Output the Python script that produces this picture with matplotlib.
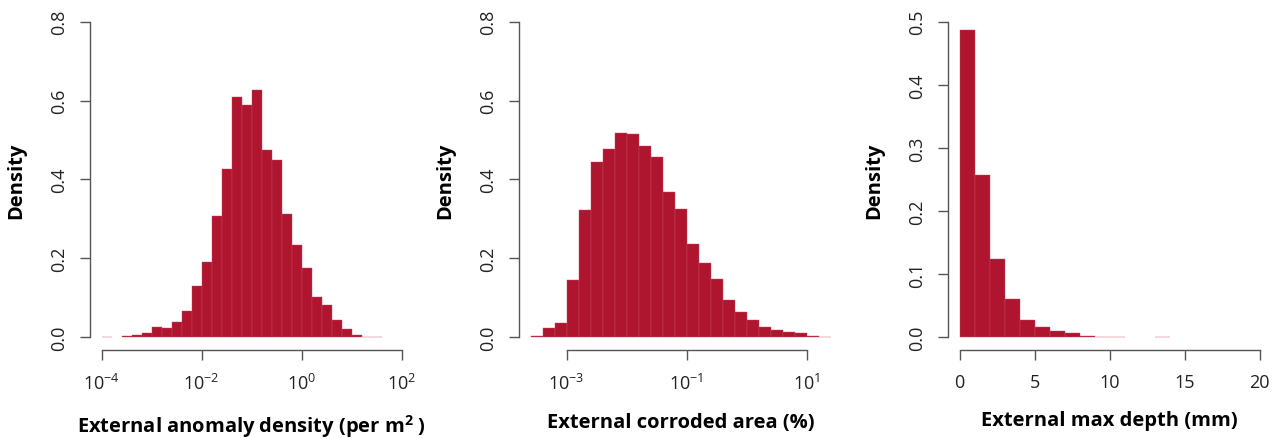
import numpy as np
import matplotlib
matplotlib.use("Agg")
from matplotlib import pyplot as plt

# histogram densities read off the reference
# panel 1: log10 bins of width 0.2 from -4 to 1.6
anomaly_lo, anomaly_hi = -4.0, 1.6
anomaly_dens = [0.001, 0.0, 0.0025, 0.006, 0.010, 0.026, 0.023, 0.040, 0.067,
                0.129, 0.191, 0.308, 0.427, 0.610, 0.590, 0.627, 0.475, 0.449,
                0.313, 0.234, 0.176, 0.103, 0.083, 0.044, 0.022, 0.006, 0.002,
                0.001]

# panel 2: log10 bins of width 0.2 from -3.6 to 1.4
area_lo, area_hi = -3.6, 1.4
area_dens = [0.004, 0.024, 0.036, 0.145, 0.322, 0.444, 0.477, 0.519, 0.516,
             0.485, 0.456, 0.369, 0.326, 0.236, 0.188, 0.147, 0.094, 0.063,
             0.045, 0.027, 0.019, 0.013, 0.010, 0.0025, 0.0017]

# panel 3: linear bins of width 1 mm from 0 to 14
depth_lo, depth_hi = 0, 14
depth_dens = [0.487, 0.257, 0.124, 0.060, 0.028, 0.016, 0.0095, 0.0074,
              0.002, 0.001, 0.0005, 0.0, 0.0, 0.0005]

xlabels = ["External anomaly density (per m$^{\\mathbf{2}}$ )",
           "External corroded area (%)",
           "External max depth (mm)"]

FILL = "#b01530"
EDGE = "#c64a5e"
AX = "#555555"

plt.rcParams["font.family"] = ["Open Sans", "DejaVu Sans"]
plt.rcParams["mathtext.fontset"] = "custom"
plt.rcParams["mathtext.rm"] = "Open Sans"
plt.rcParams["mathtext.bf"] = "Open Sans:bold"


def style_axis(ax, ybounds, xbounds, yticks, xticks):
    for s in ("top", "right"):
        ax.spines[s].set_visible(False)
    for s in ("left", "bottom"):
        ax.spines[s].set_color(AX)
        ax.spines[s].set_linewidth(1.0)
    ax.spines["left"].set_bounds(*ybounds)
    ax.spines["bottom"].set_bounds(*xbounds)
    ax.set_yticks(yticks)
    ax.set_yticklabels([f"{t:.1f}" for t in yticks], rotation=90, va="center")
    ax.set_xticks(xticks)
    ax.minorticks_off()
    ax.tick_params(axis="both", length=7.5, width=1.0, color=AX,
                   labelsize=13, labelcolor="#222222")
    ax.tick_params(axis="x", pad=9)
    ax.tick_params(axis="y", pad=8)
    ax.set_ylabel("Density", fontsize=14.5, fontweight="bold", labelpad=17)


def draw_hist(ax, edges, dens):
    nz = [i for i, d in enumerate(dens) if d > 0]
    left = [edges[i] for i in nz]
    w = [edges[i + 1] - edges[i] for i in nz]
    ax.bar(left, [dens[i] for i in nz], width=w, align="edge",
           color=FILL, edgecolor=EDGE, linewidth=0.3)


fig = plt.figure(figsize=(12.8, 4.39), dpi=100)
bottom, height = 0.2005, 0.7767
width = 0.2531
lefts = [89.7 / 1280, 518.7 / 1280, 947.7 / 1280]

# panel 1
ax1 = fig.add_axes([lefts[0], bottom, width, height])
draw_hist(ax1, 10 ** np.linspace(anomaly_lo, anomaly_hi, len(anomaly_dens) + 1),
          anomaly_dens)
ax1.set_xscale("log")
ax1.set_xlim(10 ** -4.24, 10 ** 2.24)
ax1.set_ylim(-0.032, 0.832)
style_axis(ax1, (0, 0.8), (1e-4, 1e2), [0, 0.2, 0.4, 0.6, 0.8],
           [1e-4, 1e-2, 1e0, 1e2])
ax1.set_xticklabels(["$10^{-4}$", "$10^{-2}$", "$10^{0}$", "$10^{2}$"])

# panel 2
ax2 = fig.add_axes([lefts[1], bottom, width, height])
draw_hist(ax2, 10 ** np.linspace(area_lo, area_hi, len(area_dens) + 1),
          area_dens)
ax2.set_xscale("log")
ax2.set_xlim(10 ** -3.8, 10 ** 1.6)
ax2.set_ylim(-0.032, 0.832)
style_axis(ax2, (0, 0.8), (1e-3, 1e1), [0, 0.2, 0.4, 0.6, 0.8],
           [1e-3, 1e-1, 1e1])
ax2.set_xticklabels(["$10^{-3}$", "$10^{-1}$", "$10^{1}$"])

# panel 3
ax3 = fig.add_axes([lefts[2], bottom, width, height])
draw_hist(ax3, np.linspace(depth_lo, depth_hi, len(depth_dens) + 1),
          depth_dens)
ax3.set_xlim(-0.8, 20.8)
ax3.set_ylim(-0.02, 0.52)
style_axis(ax3, (0, 0.5), (0, 20), [0, 0.1, 0.2, 0.3, 0.4, 0.5],
           [0, 5, 10, 15, 20])

for ax, lab in zip((ax1, ax2, ax3), xlabels):
    ax.set_xlabel(lab, fontsize=14.5, fontweight="bold", labelpad=14)

fig.savefig("out.png", dpi=100)
